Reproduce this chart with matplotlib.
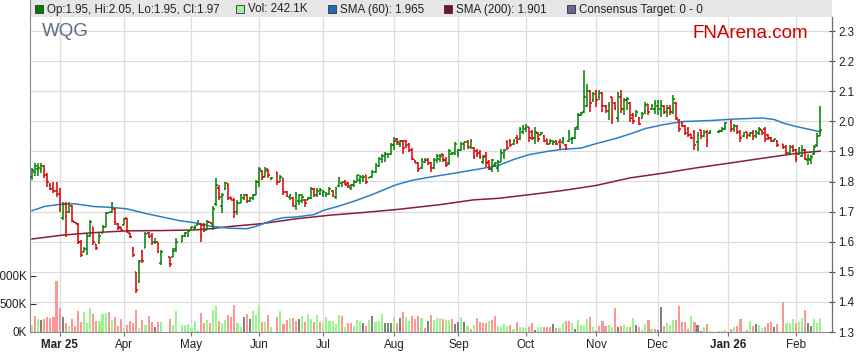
import numpy as np
import pandas as pd
import matplotlib
matplotlib.use("Agg")
import matplotlib.pyplot as plt
from matplotlib.collections import LineCollection
from matplotlib.patches import Rectangle

plt.rcParams["font.family"] = ["Liberation Sans", "DejaVu Sans"]

# ---------------------------------------------------------------------------
# Data (one entry per weekday from 2025-02-18 to 2026-02-12, None = holiday)
# ---------------------------------------------------------------------------
opens = [
    1.815, 1.830, 1.840, 1.840, 1.850, 1.820, 1.790, 1.780, 1.770, 1.760,
    1.680, 1.725, 1.700, 1.720, 1.667, 1.660, 1.600, 1.567, 1.575, 1.620,
    1.650, 1.594, 1.600, 1.628, 1.650, 1.695, 1.700, 1.710, 1.660, 1.650,
    1.656, 1.678, 1.628, 1.580, 1.500, 1.470, 1.565, 1.580, 1.630, 1.620,
    1.600, 1.600, 1.530, None, None, 1.550, 1.550, 1.575, None, 1.600,
    1.618, 1.620, 1.640, 1.645, 1.656, 1.660, 1.655, 1.640, 1.667, 1.660,
    1.725, 1.778, 1.720, 1.775, 1.790, 1.750, 1.740, 1.700, 1.730, 1.745,
    1.755, 1.735, 1.745, 1.755, 1.800, 1.835, 1.815, 1.840, 1.810, None,
    1.830, 1.800, 1.810, 1.765, 1.750, 1.745, 1.720, 1.735, 1.735, 1.740,
    1.740, 1.745, 1.775, 1.755, 1.760, 1.760, 1.755, 1.760, 1.770, 1.750,
    1.785, 1.795, 1.800, 1.795, 1.780, 1.790, 1.800, 1.805, 1.810, 1.820,
    1.810, 1.815, 1.830, 1.850, 1.875, 1.885, 1.890, 1.890, 1.920, 1.940,
    1.925, 1.935, 1.935, 1.925, 1.905, 1.870, 1.860, 1.845, 1.865, 1.870,
    1.860, 1.845, 1.870, 1.875, 1.890, 1.870, 1.860, 1.890, 1.890, 1.895,
    1.905, 1.925, 1.930, 1.915, 1.912, 1.900, 1.895, 1.865, 1.885, 1.865,
    1.840, 1.855, 1.845, 1.865, 1.885, 1.930, 1.935, 1.925, 1.945, 1.940,
    1.965, 1.975, 1.980, 1.965, 1.945, 1.962, 1.955, 1.950, 1.940, 1.925,
    1.925, 1.935, 1.930, 1.930, 1.920, 1.935, 1.940, 1.945, 1.980, 2.020,
    2.030, 2.050, 2.100, 2.070, 2.100, 2.080, 2.095, 2.050, 2.035, 2.080,
    2.060, 2.010, 2.080, 2.040, 2.070, 2.060, 2.020, 2.020, 2.010, 2.010,
    2.030, 2.058, 2.040, 2.040, 2.050, 2.040, 2.050, 2.030, 2.045, 2.030,
    2.060, 2.005, 1.995, 1.985, 1.975, 1.958, 1.965, 1.930, 1.970, 1.950,
    1.965, 1.960, None, None, 1.965, 1.968, 1.975, None, 2.000, 1.975,
    1.985, 1.965, 1.950, 1.965, 1.955, 1.962, 1.950, 1.960, 1.970, 1.975,
    1.955, 1.945, 1.935, 1.935, None, 1.925, 1.915, 1.895, 1.915, 1.905,
    1.890, 1.885, 1.905, 1.870, 1.870, 1.890, 1.920, 1.950,
]
highs = [
    1.844, 1.861, 1.861, 1.861, 1.856, 1.828, 1.794, 1.800, 1.800, 1.778,
    1.733, 1.733, 1.733, 1.722, 1.667, 1.661, 1.606, 1.583, 1.628, 1.672,
    1.650, 1.594, 1.628, 1.656, 1.700, 1.700, 1.733, 1.711, 1.661, 1.650,
    1.678, 1.678, 1.628, 1.583, 1.500, 1.540, 1.572, 1.633, 1.633, 1.628,
    1.611, 1.600, 1.572, None, None, 1.550, 1.578, 1.611, None, 1.622,
    1.633, 1.639, 1.650, 1.656, 1.672, 1.661, 1.661, 1.672, 1.667, 1.717,
    1.811, 1.789, 1.761, 1.800, 1.794, 1.750, 1.745, 1.740, 1.760, 1.760,
    1.760, 1.749, 1.760, 1.805, 1.849, 1.838, 1.849, 1.843, 1.815, None,
    1.832, 1.821, 1.810, 1.768, 1.760, 1.749, 1.765, 1.760, 1.760, 1.743,
    1.749, 1.782, 1.777, 1.780, 1.777, 1.771, 1.766, 1.782, 1.771, 1.782,
    1.816, 1.800, 1.804, 1.799, 1.793, 1.804, 1.821, 1.821, 1.821, 1.821,
    1.816, 1.838, 1.860, 1.882, 1.893, 1.899, 1.893, 1.927, 1.949, 1.943,
    1.938, 1.938, 1.938, 1.927, 1.910, 1.871, 1.866, 1.877, 1.877, 1.877,
    1.866, 1.877, 1.893, 1.893, 1.892, 1.881, 1.909, 1.899, 1.931, 1.909,
    1.931, 1.931, 1.937, 1.942, 1.914, 1.909, 1.903, 1.887, 1.898, 1.870,
    1.876, 1.864, 1.870, 1.909, 1.909, 1.937, 1.942, 1.942, 1.953, 1.981,
    1.987, 1.992, 1.981, 1.970, 1.981, 1.964, 1.964, 1.953, 1.942, 1.942,
    1.937, 1.937, 1.942, 1.948, 1.926, 1.970, 1.948, 1.981, 2.026, 2.031,
    2.172, 2.123, 2.103, 2.098, 2.103, 2.103, 2.098, 2.053, 2.064, 2.081,
    2.064, 2.098, 2.103, 2.076, 2.081, 2.064, 2.026, 2.037, 2.014, 2.031,
    2.064, 2.059, 2.059, 2.070, 2.070, 2.070, 2.053, 2.053, 2.053, 2.086,
    2.064, 2.009, 1.998, 1.987, 1.981, 1.959, 1.970, 1.965, 1.970, 1.970,
    1.970, 1.970, None, None, 1.970, 1.981, 1.998, None, 2.003, 1.992,
    1.987, 1.970, 1.965, 1.965, 1.965, 1.970, 1.970, 1.981, 1.970, 1.981,
    1.959, 1.948, 1.942, 1.937, None, 1.926, 1.920, 1.920, 1.920, 1.909,
    1.915, 1.920, 1.909, 1.893, 1.887, 1.920, 1.960, 2.050,
]
lows = [
    1.806, 1.817, 1.819, 1.828, 1.811, 1.783, 1.772, 1.761, 1.750, 1.700,
    1.672, 1.617, 1.694, 1.667, 1.661, 1.594, 1.550, 1.567, 1.556, 1.617,
    1.589, 1.572, 1.594, 1.628, 1.650, 1.694, 1.694, 1.656, 1.639, 1.639,
    1.656, 1.628, 1.611, 1.550, 1.428, 1.462, 1.528, 1.578, 1.611, 1.589,
    1.594, 1.561, 1.522, None, None, 1.517, 1.550, 1.567, None, 1.600,
    1.617, 1.617, 1.639, 1.639, 1.656, 1.600, 1.633, 1.639, 1.661, 1.639,
    1.720, 1.739, 1.694, 1.772, 1.739, 1.739, 1.680, 1.690, 1.727, 1.738,
    1.727, 1.732, 1.738, 1.754, 1.782, 1.805, 1.815, 1.810, 1.805, None,
    1.788, 1.799, 1.755, 1.749, 1.738, 1.716, 1.704, 1.721, 1.727, 1.716,
    1.738, 1.743, 1.749, 1.750, 1.754, 1.749, 1.749, 1.754, 1.749, 1.743,
    1.782, 1.782, 1.788, 1.777, 1.771, 1.782, 1.799, 1.793, 1.799, 1.793,
    1.810, 1.810, 1.829, 1.849, 1.860, 1.866, 1.877, 1.888, 1.904, 1.921,
    1.916, 1.893, 1.910, 1.899, 1.871, 1.860, 1.832, 1.843, 1.860, 1.854,
    1.832, 1.843, 1.860, 1.866, 1.864, 1.848, 1.855, 1.887, 1.887, 1.881,
    1.900, 1.903, 1.909, 1.909, 1.876, 1.881, 1.876, 1.859, 1.848, 1.837,
    1.831, 1.848, 1.831, 1.864, 1.876, 1.903, 1.914, 1.920, 1.926, 1.937,
    1.959, 1.964, 1.931, 1.937, 1.926, 1.931, 1.953, 1.931, 1.920, 1.924,
    1.920, 1.920, 1.909, 1.926, 1.903, 1.931, 1.926, 1.942, 1.970, 2.018,
    2.029, 2.048, 2.031, 2.064, 2.048, 2.070, 2.031, 2.026, 2.003, 1.992,
    2.037, 1.998, 2.026, 2.020, 2.037, 1.998, 1.992, 2.014, 1.987, 2.009,
    2.025, 2.020, 2.037, 2.025, 2.020, 2.014, 2.025, 2.014, 2.020, 2.025,
    2.003, 1.965, 1.981, 1.953, 1.948, 1.942, 1.904, 1.900, 1.942, 1.948,
    1.915, 1.959, None, None, 1.962, 1.965, 1.970, None, 1.965, 1.965,
    1.959, 1.931, 1.948, 1.942, 1.948, 1.937, 1.945, 1.955, 1.955, 1.931,
    1.937, 1.931, 1.930, 1.915, None, 1.909, 1.887, 1.893, 1.898, 1.865,
    1.887, 1.880, 1.870, 1.854, 1.859, 1.887, 1.915, 1.950,
]
closes = [
    1.839, 1.850, 1.845, 1.850, 1.820, 1.800, 1.775, 1.770, 1.760, 1.710,
    1.725, 1.640, 1.725, 1.670, 1.662, 1.600, 1.555, 1.575, 1.620, 1.665,
    1.600, 1.580, 1.620, 1.650, 1.695, 1.700, 1.725, 1.665, 1.645, 1.640,
    1.675, 1.635, 1.615, 1.555, 1.440, 1.535, 1.535, 1.625, 1.615, 1.595,
    1.600, 1.565, 1.567, None, None, 1.525, 1.570, 1.600, None, 1.618,
    1.630, 1.635, 1.648, 1.650, 1.670, 1.620, 1.640, 1.667, 1.662, 1.710,
    1.790, 1.750, 1.755, 1.795, 1.745, 1.740, 1.700, 1.730, 1.755, 1.755,
    1.735, 1.745, 1.755, 1.800, 1.840, 1.815, 1.835, 1.820, 1.810, None,
    1.800, 1.815, 1.765, 1.752, 1.755, 1.725, 1.760, 1.755, 1.750, 1.730,
    1.745, 1.775, 1.755, 1.770, 1.772, 1.765, 1.760, 1.775, 1.755, 1.780,
    1.810, 1.797, 1.790, 1.785, 1.790, 1.800, 1.820, 1.815, 1.815, 1.800,
    1.815, 1.830, 1.855, 1.875, 1.885, 1.890, 1.892, 1.920, 1.935, 1.930,
    1.935, 1.910, 1.920, 1.905, 1.875, 1.862, 1.840, 1.870, 1.872, 1.860,
    1.845, 1.870, 1.885, 1.885, 1.870, 1.855, 1.900, 1.895, 1.925, 1.905,
    1.925, 1.930, 1.915, 1.935, 1.880, 1.890, 1.880, 1.880, 1.860, 1.840,
    1.870, 1.860, 1.865, 1.895, 1.905, 1.910, 1.920, 1.935, 1.930, 1.975,
    1.980, 1.985, 1.945, 1.945, 1.965, 1.940, 1.960, 1.935, 1.925, 1.935,
    1.930, 1.925, 1.915, 1.940, 1.910, 1.960, 1.945, 1.975, 2.020, 2.028,
    2.080, 2.100, 2.060, 2.090, 2.070, 2.095, 2.050, 2.035, 2.055, 2.010,
    2.045, 2.085, 2.040, 2.070, 2.075, 2.010, 2.000, 2.030, 1.990, 2.025,
    2.055, 2.030, 2.050, 2.060, 2.065, 2.055, 2.030, 2.045, 2.030, 2.075,
    2.010, 1.975, 1.985, 1.960, 1.955, 1.945, 1.920, 1.955, 1.950, 1.960,
    1.935, 1.965, None, None, 1.968, 1.975, 1.995, None, 1.975, 1.985,
    1.965, 1.945, 1.960, 1.950, 1.962, 1.945, 1.965, 1.975, 1.960, 1.940,
    1.945, 1.935, 1.940, 1.920, None, 1.915, 1.895, 1.915, 1.905, 1.875,
    1.910, 1.905, 1.875, 1.875, 1.880, 1.915, 1.950, 1.970,
]
# volume in thousands of shares
volumes = [
    124, 283, 224, 212, 224, 260, 254, 265, 903, 425,
    265, 160, 106, 230, 106, 372, 177, 348, 160, 425,
    319, 195, 195, 319, 342, 348, 218, 265, 106, 230,
    65, 124, 195, 165, 390, 71, 212, 124, 283, 183,
    89, 183, 183, None, None, 230, 124, 372, None, 124,
    124, 142, 71, 195, 35, 336, 165, 212, 165, 390,
    460, 189, 165, 212, 301, 265, 478, 160, 83, 265,
    319, 230, 372, 301, 478, 177, 183, 301, 89, None,
    265, 372, 142, 212, 254, 248, 200, 230, 283, 177,
    319, 230, 177, 301, 177, 160, 265, 195, 195, 142,
    301, 283, 89, 160, 160, 106, 212, 195, 160, 106,
    212, 283, 177, 195, 319, 160, 160, 160, 265, 160,
    248, 354, 265, 195, 283, 230, 283, 248, 71, 195,
    301, 212, 248, 248, 230, 212, 212, 230, 142, 177,
    265, 177, 106, 53, 124, 248, 177, 160, 160, 195,
    212, 283, 106, 89, 142, 106, 124, 53, 177, 89,
    89, 71, 89, 160, 35, 89, 89, 89, 89, 89,
    142, 71, 71, 160, 195, 195, 160, 53, 212, 124,
    106, 230, 265, 89, 18, 106, 195, 106, 124, 89,
    425, 89, 106, 124, 89, 89, 248, 124, 89, 35,
    142, 212, 53, 53, 35, 442, 106, 160, 124, 212,
    212, 460, 177, 177, 53, 283, 177, 124, 18, 89,
    142, 18, None, None, 18, 18, 35, None, 53, 89,
    106, 230, 18, 35, 195, 106, 142, 124, 71, 89,
    160, 177, 89, 142, None, 531, 160, 160, 230, 160,
    177, 248, 390, 160, 106, 230, 160, 248,
]
# volume bar colour: g = up, r = down, n = unchanged, - = no trading
vol_dir = (
    "grgnrrrrrr" "nrgrrrrggg" "rrgggrgrrr" "grrrrgrgrr" "nrg--rgg-g"
    "gggggrrgrg" "grggrrrggn" "rngggrgrg-" "rgrrgrrngr" "ggrgrggggg"
    "grgrrgggnr" "gngggnnngr" "nrggrrrgrn" "rgggrggrnn" "gngrgrrrrg"
    "rrggggrgrg" "ggrrnggrrr" "nrggrrgngg" "ggrgnrrrgg" "rnrggrgnrg"
    "grgrnnrggg" "rrrrrgrnng" "rg--ggg-rg" "rrgrgrnggr" "rrnr-rgggr"
    "ggrnnggg"
)

sma60_idx = [0, 4, 9, 14, 20, 26, 31, 37, 42, 48, 53, 58, 64, 70, 73, 79, 82, 86,
             92, 95, 100, 106, 111, 117, 119, 124, 130, 138, 146, 152, 157, 162,
             168, 173, 179, 184, 190, 195, 200, 206, 212, 217, 222, 228, 233,
             238, 242, 245, 249, 254, 257]
sma60_val = [1.703, 1.717, 1.724, 1.726, 1.717, 1.714, 1.709, 1.694, 1.683, 1.670,
             1.663, 1.652, 1.645, 1.643, 1.651, 1.673, 1.680, 1.682, 1.690, 1.704,
             1.718, 1.738, 1.757, 1.782, 1.790, 1.804, 1.815, 1.828, 1.842, 1.853,
             1.873, 1.889, 1.900, 1.907, 1.911, 1.926, 1.942, 1.958, 1.976, 1.989,
             1.999, 2.001, 2.003, 2.007, 2.009, 2.011, 2.006, 1.994, 1.983, 1.972,
             1.965]
sma200_idx = [0, 10, 20, 31, 42, 53, 58, 65, 75, 86, 97, 108, 119, 133, 144, 152,
              162, 173, 184, 195, 206, 217, 228, 238, 249, 257]
sma200_val = [1.609, 1.622, 1.630, 1.636, 1.637, 1.639, 1.643, 1.651, 1.660, 1.676,
              1.688, 1.697, 1.707, 1.723, 1.739, 1.744, 1.756, 1.770, 1.787, 1.812,
              1.828, 1.846, 1.862, 1.877, 1.893, 1.901]

month_labels = ["Mar 25", "Apr", "May", "Jun", "Jul", "Aug", "Sep", "Oct",
                "Nov", "Dec", "Jan 26", "Feb"]
price_ticks = [1.3, 1.4, 1.5, 1.6, 1.7, 1.8, 1.9, 2.0, 2.1, 2.2, 2.3]
vol_ticks = [0, 500, 1000]

# ---------------------------------------------------------------------------
dates = pd.bdate_range("2025-02-18", "2026-02-12")
idx = np.arange(len(dates))
mon = pd.Series(dates.month)
month_pos = np.where(mon.diff().fillna(0) != 0)[0]

W, H = 859, 363
LEFT, RIGHT, BOTTOM, TOP = 30, 832, 332, 17
PX_PER_BAR = 3.067
X0 = 32

fig = plt.figure(figsize=(W / 100, H / 100), dpi=100)
fig.patch.set_facecolor("white")
axv = fig.add_axes([LEFT / W, 1 - BOTTOM / H, (RIGHT - LEFT) / W, (BOTTOM - TOP) / H])
axp = axv.twinx()

axv.set_xlim((LEFT - X0) / PX_PER_BAR, (RIGHT - X0) / PX_PER_BAR)

P_LO, P_HI = 1.3, 1.3 + (BOTTOM - TOP) / 301.0
V_HI = 1000 * (BOTTOM - TOP) / 56.5
axp.set_ylim(P_LO, P_HI)
axv.set_ylim(0, V_HI)

# grid (drawn on the volume axes so it stays under every mark)
grid_c = "#dcdcdc"
for p in price_ticks[1:]:
    axv.axhline((p - P_LO) / (P_HI - P_LO) * V_HI, color=grid_c, lw=0.9, zorder=0.5)
for m in month_pos:
    axv.axvline(m, color=grid_c, lw=0.9, zorder=0.5)

# volume
vcol = {"g": "#9af58f", "r": "#ff9696", "n": "#808080"}
vx, vh, vc = [], [], []
for i, v in enumerate(volumes):
    if v is None:
        continue
    vx.append(i)
    vh.append(v)
    vc.append(vcol[vol_dir[i]])
axv.bar(vx, vh, width=0.68, color=vc, linewidth=0, zorder=2)

# SMA lines
axp.plot(sma200_idx, sma200_val, color="#8a1c40", lw=1.1, zorder=3)
axp.plot(sma60_idx, sma60_val, color="#2f7fc0", lw=1.1, zorder=3)

# OHLC bars
tw = 0.55
segs, cols = [], []
for i in idx:
    o, h, l, c = opens[i], highs[i], lows[i], closes[i]
    if o is None:
        continue
    col = "#008000" if c >= o else "#d90000"
    segs += [[(i, l), (i, h)], [(i - tw, o), (i, o)], [(i, c), (i + tw, c)]]
    cols += [col] * 3
axp.add_collection(LineCollection(segs, colors=cols, linewidths=1.1, zorder=4,
                                  capstyle="butt"))

# axes styling
for a in (axv, axp):
    a.spines["top"].set_visible(False)
axv.spines["left"].set_color("#8c8c8c")
axv.spines["bottom"].set_color("#8c8c8c")
axp.spines["right"].set_color("#707070")
axp.spines["left"].set_visible(False)
axp.spines["bottom"].set_visible(False)

axp.set_yticks(price_ticks)
axp.set_yticklabels([f"{p:.1f}" for p in price_ticks])
axp.tick_params(axis="y", direction="inout", length=5, width=0.8, color="#505050",
                labelsize=8.4, pad=2, labelcolor="#222222")

axv.set_yticks(vol_ticks)
axv.set_yticklabels([f"{v}K" for v in vol_ticks])
axv.tick_params(axis="y", direction="in", length=4, width=0.8, color="#303030",
                labelsize=8.4, pad=2, labelcolor="#222222")

axv.set_xticks(month_pos)
axv.set_xticklabels(month_labels)
axv.tick_params(axis="x", direction="out", length=3, width=0.8, color="#707070",
                labelsize=8.4, pad=2, labelcolor="#222222")
for t in axv.get_xticklabels():
    if " " in t.get_text():
        t.set_fontweight("bold")

# header band with legend
def fx(x):
    return x / W

def fy(y):
    return 1 - y / H

fig.patches.append(Rectangle((fx(LEFT), fy(TOP)), (RIGHT - LEFT) / W, TOP / H,
                             transform=fig.transFigure, facecolor="#e6e6e6",
                             edgecolor="none", zorder=0))
fig.add_artist(plt.Line2D([fx(LEFT), fx(LEFT)], [fy(TOP), 1], color="#8c8c8c",
                          lw=0.8, transform=fig.transFigure))

legend_items = [
    (35, "#007a00", "Op:1.95, Hi:2.05, Lo:1.95, Cl:1.97"),
    (236, "#a0f0a0", "Vol: 242.1K"),
    (328, "#1f6cb0", "SMA (60): 1.965"),
    (444, "#7a0f2e", "SMA (200): 1.901"),
    (567, "#666690", "Consensus Target: 0 - 0"),
]
for x, c, txt in legend_items:
    fig.patches.append(Rectangle((fx(x), fy(13)), 8 / W, 8 / H,
                                 transform=fig.transFigure, facecolor=c,
                                 edgecolor="#333333", lw=0.6))
    fig.text(fx(x + 12), fy(9.5), txt, fontsize=8.4, color="#222222",
             va="center", ha="left")

fig.text(fx(42), fy(32), "WQG", fontsize=13.5, color="#5b6b85",
         va="center", ha="left")
fig.text(fx(692), fy(33), "FNArena.com", fontsize=13.5, color="#cc0000",
         va="center", ha="left")

fig.savefig("out.png", dpi=100)
